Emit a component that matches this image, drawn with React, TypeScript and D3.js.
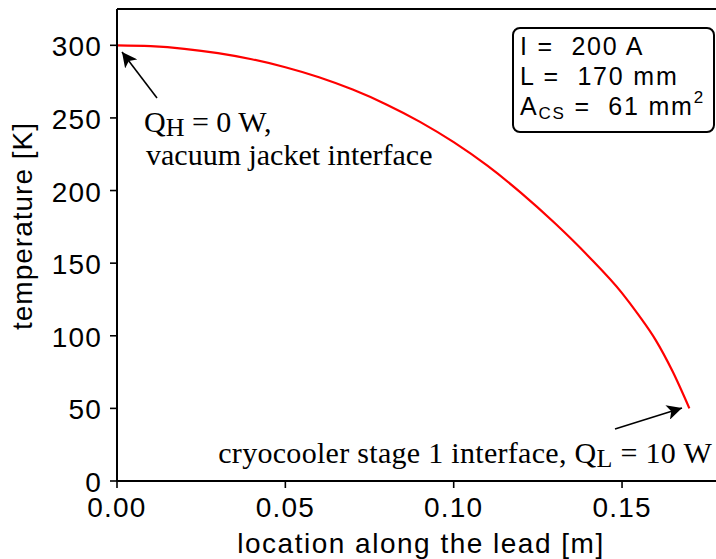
import { line, curveMonotoneX, scaleLinear } from 'd3';

// temperature profile along the current lead
const positions = [0, 0.01, 0.02, 0.03, 0.04, 0.05, 0.06, 0.07, 0.08, 0.09, 0.1, 0.11, 0.12, 0.13, 0.14, 0.15, 0.155, 0.16, 0.165, 0.17];
const temperatures = [300, 299.4, 297.6, 294.6, 290.4, 284.9, 278, 269.5, 259.3, 247.3, 233.3, 217.1, 198.4, 177.6, 154.8, 129.4, 114, 97, 75.5, 50];
const xTicks = [0, 0.05, 0.1, 0.15];
const yTicks = [0, 50, 100, 150, 200, 250, 300];
const boxLines = ['I =  200 A', 'L =  170 mm'];

const width = 716;
const height = 559;
const margin = { top: 9, right: -2, bottom: 78, left: 117 };

const sans = '"Liberation Sans", Arial, sans-serif';
const serif = '"Liberation Serif", "Times New Roman", serif';

export default function App() {
  const x = scaleLinear().domain([0, 0.1785]).range([margin.left, width - margin.right]);
  const y = scaleLinear().domain([0, 325]).range([height - margin.bottom, margin.top]);

  const path = line<number>()
    .x((_, i) => x(positions[i]))
    .y(d => y(d))
    .curve(curveMonotoneX)(temperatures) ?? '';

  const bottom = height - margin.bottom;

  return (
    <svg width={width} height={height} style={{ position: 'absolute', left: 0, top: 0, background: '#fff' }}>
      <defs>
        <marker id="arrow-head" viewBox="0 0 10 10" refX="10" refY="5" markerWidth="15" markerHeight="15" markerUnits="userSpaceOnUse" orient="auto">
          <path d="M0,0 L10,5 L0,10 L2.5,5 z" fill="#000" />
        </marker>
      </defs>

      <path d={path} fill="none" stroke="#ff0000" strokeWidth={2.2} />

      {/* frame, right spine falls just outside the picture */}
      <line x1={margin.left} x2={width + 5} y1={margin.top} y2={margin.top} stroke="#000" strokeWidth={2} />
      <line x1={margin.left} x2={width + 5} y1={bottom} y2={bottom} stroke="#000" strokeWidth={2} />
      <line x1={margin.left} x2={margin.left} y1={margin.top} y2={bottom} stroke="#000" strokeWidth={2} />

      {yTicks.map(t => (
        <g key={t}>
          <line x1={margin.left - 7} x2={margin.left} y1={y(t)} y2={y(t)} stroke="#000" strokeWidth={1.6} />
          <text x={margin.left - 15} y={y(t) + 11} textAnchor="end" fontFamily={sans} fontSize={28} letterSpacing={1.2}>
            {t}
          </text>
        </g>
      ))}

      {xTicks.map(t => (
        <g key={t}>
          <line x1={x(t)} x2={x(t)} y1={bottom} y2={bottom + 7} stroke="#000" strokeWidth={1.6} />
          <text x={x(t)} y={bottom + 36} textAnchor="middle" fontFamily={sans} fontSize={28} letterSpacing={1.2}>
            {t.toFixed(2)}
          </text>
        </g>
      ))}

      <text x={421} y={553} textAnchor="middle" fontFamily={sans} fontSize={28} letterSpacing={1.5}>
        location along the lead [m]
      </text>
      <text transform="translate(32,226) rotate(-90)" textAnchor="middle" fontFamily={sans} fontSize={28} letterSpacing={1}>
        temperature [K]
      </text>

      {/* parameter box */}
      <rect x={513} y={28} width={201} height={104} rx={7} fill="#fff" stroke="#000" strokeWidth={2} />
      {boxLines.map((s, i) => (
        <text key={s} x={520} y={55 + i * 30} fontFamily={sans} fontSize={25} letterSpacing={1.8} style={{ whiteSpace: 'pre' }}>
          {s}
        </text>
      ))}
      <text x={520} y={115} fontFamily={sans} fontSize={25} letterSpacing={1.8} style={{ whiteSpace: 'pre' }}>
        A<tspan fontSize={17} dy={4}>CS</tspan>
        <tspan dy={-4}>{' =  61 mm'}</tspan>
        <tspan fontSize={17} dy={-12}>2</tspan>
      </text>

      {/* annotations */}
      <line x1={157} y1={98} x2={122} y2={52} stroke="#000" strokeWidth={1.6} markerEnd="url(#arrow-head)" />
      <text x={144} y={132} fontFamily={serif} fontSize={30} style={{ whiteSpace: 'pre' }}>
        Q<tspan fontSize={26} dy={4}>H</tspan>
        <tspan dy={-4}> = 0 W,</tspan>
      </text>
      <text x={146} y={165} fontFamily={serif} fontSize={30}>
        vacuum jacket interface
      </text>

      <line x1={615} y1={429} x2={682} y2={408} stroke="#000" strokeWidth={1.6} markerEnd="url(#arrow-head)" />
      <text x={712} y={463} textAnchor="end" fontFamily={serif} fontSize={30} letterSpacing={0.3} style={{ whiteSpace: 'pre' }}>
        cryocooler stage 1 interface, Q<tspan fontSize={26} dy={4}>L</tspan>
        <tspan dy={-4}> = 10 W</tspan>
      </text>
    </svg>
  );
}
